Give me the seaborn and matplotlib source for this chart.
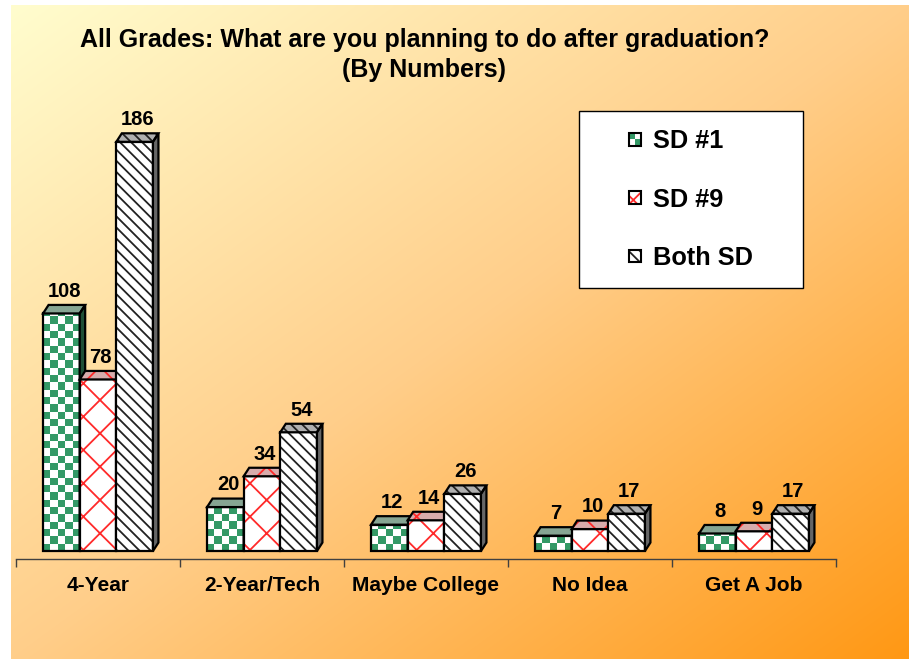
import numpy as np
import pandas as pd
import matplotlib
matplotlib.use("Agg")
import matplotlib.pyplot as plt
import seaborn as sns
from matplotlib.patches import Rectangle, Polygon
from matplotlib.image import AxesImage
from matplotlib.legend_handler import HandlerBase

# ---------------- data ----------------
categories = ["4-Year", "2-Year/Tech", "Maybe College", "No Idea", "Get A Job"]
series = ["SD #1", "SD #9", "Both SD"]
sd1 = [108, 20, 12, 7, 8]
sd9 = [78, 34, 14, 10, 9]
both = [186, 54, 26, 17, 17]
title_text = "All Grades: What are you planning to do after graduation?\n(By Numbers)"

values = [sd1, sd9, both]
df = pd.DataFrame({
    "category": categories * 3,
    "series": [s for s in series for _ in categories],
    "value": sd1 + sd9 + both,
})

sns.set_theme(style="white")
plt.rcParams["font.family"] = ["Liberation Sans", "DejaVu Sans"]
plt.rcParams["hatch.linewidth"] = 1.3
plt.rcParams["text.color"] = "black"
plt.rcParams["xtick.color"] = "black"
plt.rcParams["xtick.labelcolor"] = "black"

W, H = 909, 659
fig = plt.figure(figsize=(W / 100, H / 100), dpi=100)
fig.patch.set_facecolor("white")

# ---------------- gradient background ----------------
bg = fig.add_axes([11 / W, 0, 1 - 11 / W, 1 - 5 / H], zorder=-10)
ny, nx = 220, 320
u = np.linspace(0, 1, nx)[None, :]
v = np.linspace(0, 1, ny)[:, None]
t = (u + v) / 2
st = [0, 0.5, 1]
r = np.interp(t, st, [255, 255, 255])
g = np.interp(t, st, [253, 206, 152])
b = np.interp(t, st, [206, 138, 20])
bg.imshow(np.dstack([r, g, b]) / 255, aspect="auto", extent=[0, 1, 0, 1],
          origin="upper", interpolation="bilinear")
bg.axis("off")

# ---------------- main axes ----------------
ax = fig.add_axes([16 / W, 1 - 559 / H, 820 / W, 459 / H])
ax.set_facecolor("none")
sns.barplot(data=df, x="category", y="value", hue="series", order=categories,
            hue_order=series, palette=["white"] * 3, width=0.67, saturation=1,
            legend=False, ax=ax)
ymin, ymax = -3.6, 205
ax.set_xlim(-0.5, 4.5)
ax.set_ylim(ymin, ymax)

xpx = 820 / 5.0
ypx = 459 / (ymax - ymin)
dx = 5.5 / xpx
dy = 8.5 / ypx

green = "#339966"
styles = [
    dict(kind="checker", top="#86a593", side="#1f4f37"),
    dict(kind="hatch", hatch="x", hcolor="#ff2a2a", top="#d8acac", side="#a86868"),
    dict(kind="hatch", hatch="\\\\\\", hcolor="#222222", top="#b0b0b0", side="#666666"),
]
OLW = 1.6

for i, cont in enumerate(ax.containers):
    stl = styles[i]
    for j, p in enumerate(cont.patches):
        x, w, h = p.get_x(), p.get_width(), p.get_height()
        z = 2 + i * 0.1
        p.set_zorder(z)
        p.set_linewidth(0)
        p.set_facecolor("white")
        if stl["kind"] == "checker":
            p.set_edgecolor("white")
            cell = (w * xpx) / 5.0
            nrows = int(np.ceil(h * ypx / cell)) + 1
            rr, cc = np.meshgrid(np.arange(nrows), np.arange(5), indexing="ij")
            mask = (rr + cc) % 2 == 0
            arr = np.ones((nrows, 5, 3))
            arr[mask] = matplotlib.colors.to_rgb(green)
            im = AxesImage(ax, interpolation="nearest", origin="lower",
                           extent=(x, x + w, 0, nrows * cell / ypx))
            im.set_data(arr)
            im.set_clip_path(p)
            im.set_zorder(z + 0.01)
            ax.add_image(im)
        else:
            p.set_edgecolor(stl["hcolor"])
            p.set_hatch(stl["hatch"])
        # outline of front face
        ax.add_patch(Rectangle((x, 0), w, h, fill=False, ec="black", lw=OLW,
                               zorder=z + 0.02, joinstyle="miter"))
        # top face
        top_pts = [(x, h), (x + w, h), (x + w + dx, h + dy), (x + dx, h + dy)]
        if stl["kind"] == "hatch":
            ax.add_patch(Polygon(top_pts, closed=True, fc=stl["top"], ec=stl["hcolor"],
                                 lw=0, hatch=stl["hatch"], zorder=z + 0.03))
        else:
            ax.add_patch(Polygon(top_pts, closed=True, fc=stl["top"], lw=0, zorder=z + 0.03))
        ax.add_patch(Polygon(top_pts, closed=True, fill=False, ec="black", lw=OLW,
                             zorder=z + 0.04, joinstyle="miter"))
        # side face
        side_pts = [(x + w, 0), (x + w, h), (x + w + dx, h + dy), (x + w + dx, dy)]
        ax.add_patch(Polygon(side_pts, closed=True, fc=stl["side"], ec="black", lw=OLW,
                             zorder=z + 0.03, joinstyle="miter"))
        # value label
        ax.annotate(str(values[i][j]), xy=(x + (w + dx) / 2, h + dy), xytext=(0, 3),
                    textcoords="offset points", ha="center", va="bottom",
                    fontsize=14.5, fontweight="bold", color="black", zorder=10)

ax.set_xlim(-0.5, 4.5)
ax.set_ylim(ymin, ymax)

for s in ["left", "right", "top"]:
    ax.spines[s].set_visible(False)
ax.spines["bottom"].set_color("#404040")
ax.spines["bottom"].set_linewidth(1.0)
ax.set_yticks([])
ax.set_xticks(range(len(categories)))
ax.set_xticklabels(categories, fontsize=15, fontweight="bold", color="black")
ax.set_xticks(np.arange(-0.5, len(categories), 1.0), minor=True)
ax.tick_params(axis="x", which="major", bottom=True, length=0, pad=12)
ax.tick_params(axis="x", which="minor", bottom=True, length=6, width=1,
               color="#404040", direction="out")
ax.set_xlabel("")
ax.set_ylabel("")


# ---------------- legend ----------------
class SquareHandler(HandlerBase):
    def __init__(self, idx):
        super().__init__()
        self.idx = idx

    def create_artists(self, legend, orig_handle, xdescent, ydescent, width,
                       height, fontsize, trans):
        s = 0.5 * fontsize
        x0 = width - s - xdescent
        y0 = (height - s) / 2 - ydescent
        arts = []
        if self.idx == 0:
            hs = s / 2
            for (cx, cy, c) in [(0, 1, green), (1, 1, "white"), (0, 0, "white"), (1, 0, green)]:
                arts.append(Rectangle((x0 + cx * hs, y0 + cy * hs), hs, hs, fc=c,
                                      lw=0, transform=trans))
        elif self.idx == 1:
            arts.append(Rectangle((x0, y0), s, s, fc="white", ec="#ff2a2a", lw=0,
                                  hatch="x", transform=trans))
        else:
            arts.append(Rectangle((x0, y0), s, s, fc="white", ec="#222222", lw=0,
                                  hatch="\\\\\\", transform=trans))
        arts.append(Rectangle((x0, y0), s, s, fill=False, ec="black", lw=1.5,
                              transform=trans))
        return arts


handles = [Rectangle((0, 0), 1, 1) for _ in series]
hmap = {hd: SquareHandler(k) for k, hd in enumerate(handles)}
leg = ax.legend(handles, series, handler_map=hmap, loc="upper left",
                bbox_to_anchor=(579 / W, 1 - 289 / H, 224 / W, 178 / H),
                bbox_transform=fig.transFigure, mode="expand", borderaxespad=0,
                frameon=True, fancybox=False, framealpha=1, edgecolor="black",
                facecolor="white", borderpad=0.72, handlelength=1.73,
                handleheight=0.7, handletextpad=0.47, labelspacing=1.35,
                prop=dict(weight="bold", size=18.3))
leg.get_frame().set_linewidth(1.0)
leg.set_zorder(20)
for txt in leg.get_texts():
    txt.set_color("black")

# ---------------- title ----------------
fig.text(424.5 / W, 1 - 55 / H, title_text, ha="center", va="center",
         fontsize=18, fontweight="bold", linespacing=1.3, color="black")

fig.savefig("out.png", dpi=100)
